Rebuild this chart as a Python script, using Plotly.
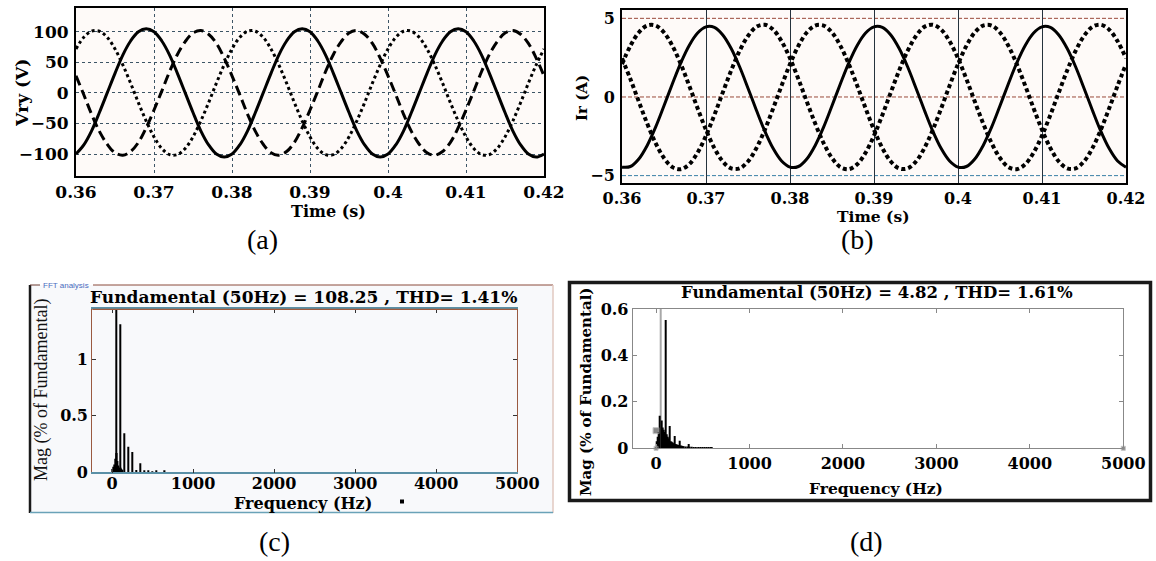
import plotly.graph_objects as go

W, H = 1156, 561

# ---------------- data ----------------
time_s = [0.360, 0.361, 0.362, 0.363, 0.364, 0.365, 0.366, 0.367, 0.368, 0.369,
          0.370, 0.371, 0.372, 0.373, 0.374, 0.375, 0.376, 0.377, 0.378, 0.379,
          0.380, 0.381, 0.382, 0.383, 0.384, 0.385, 0.386, 0.387, 0.388, 0.389,
          0.390, 0.391, 0.392, 0.393, 0.394, 0.395, 0.396, 0.397, 0.398, 0.399,
          0.400, 0.401, 0.402, 0.403, 0.404, 0.405, 0.406, 0.407, 0.408, 0.409,
          0.410, 0.411, 0.412, 0.413, 0.414, 0.415, 0.416, 0.417, 0.418, 0.419,
          0.420]

# (a) phase voltages (V)
v_solid = [-100, -85, -62, -32, 0, 32, 62, 85, 100, 105, 100, 85, 62, 32, 0, -32, -62, -85, -100, -105,
           -100, -85, -62, -32, 0, 32, 62, 85, 100, 105, 100, 85, 62, 32, 0, -32, -62, -85, -100, -105,
           -100, -85, -62, -32, 0, 32, 62, 85, 100, 105, 100, 85, 62, 32, 0, -32, -62, -85, -100, -105,
           -100]
v_dashed = [28, -3, -35, -63, -84, -98, -102, -96, -81, -57, -28, 3, 35, 63, 84, 98, 102, 96, 81, 57,
            28, -3, -35, -63, -84, -98, -102, -96, -81, -57, -28, 3, 35, 63, 84, 98, 102, 96, 81, 57,
            28, -3, -35, -63, -84, -98, -102, -96, -81, -57, -28, 3, 35, 63, 84, 98, 102, 96, 81, 57,
            28]
v_dotted = [72, 91, 101, 101, 91, 72, 46, 16, -16, -46, -72, -91, -101, -101, -91, -72, -46, -16, 16, 46,
            72, 91, 101, 101, 91, 72, 46, 16, -16, -46, -72, -91, -101, -101, -91, -72, -46, -16, 16, 46,
            72, 91, 101, 101, 91, 72, 46, 16, -16, -46, -72, -91, -101, -101, -91, -72, -46, -16, 16, 46,
            72]

# (b) phase currents (A)
i_solid = [-4.46, -4.42, -3.94, -3.08, -1.92, -0.56, 0.84, 2.17, 3.28, 4.07, 4.46, 4.42, 3.94, 3.08, 1.92, 0.56, -0.84, -2.17, -3.28, -4.07,
           -4.46, -4.42, -3.94, -3.08, -1.92, -0.56, 0.84, 2.17, 3.28, 4.07, 4.46, 4.42, 3.94, 3.08, 1.92, 0.56, -0.84, -2.17, -3.28, -4.07,
           -4.46, -4.42, -3.94, -3.08, -1.92, -0.56, 0.84, 2.17, 3.28, 4.07, 4.46, 4.42, 3.94, 3.08, 1.92, 0.56, -0.84, -2.17, -3.28, -4.07,
           -4.46]
i_dot_a = [2.09, 3.25, 4.10, 4.54, 4.54, 4.10, 3.25, 2.09, 0.72, -0.72, -2.09, -3.25, -4.10, -4.54, -4.54, -4.10, -3.25, -2.09, -0.72, 0.72,
           2.09, 3.25, 4.10, 4.54, 4.54, 4.10, 3.25, 2.09, 0.72, -0.72, -2.09, -3.25, -4.10, -4.54, -4.54, -4.10, -3.25, -2.09, -0.72, 0.72,
           2.09, 3.25, 4.10, 4.54, 4.54, 4.10, 3.25, 2.09, 0.72, -0.72, -2.09, -3.25, -4.10, -4.54, -4.54, -4.10, -3.25, -2.09, -0.72, 0.72,
           2.09]
i_dot_b = [2.46, 1.14, -0.29, -1.69, -2.93, -3.88, -4.46, -4.59, -4.28, -3.54, -2.46, -1.14, 0.29, 1.69, 2.93, 3.88, 4.46, 4.59, 4.28, 3.54,
           2.46, 1.14, -0.29, -1.69, -2.93, -3.88, -4.46, -4.59, -4.28, -3.54, -2.46, -1.14, 0.29, 1.69, 2.93, 3.88, 4.46, 4.59, 4.28, 3.54,
           2.46, 1.14, -0.29, -1.69, -2.93, -3.88, -4.46, -4.59, -4.28, -3.54, -2.46, -1.14, 0.29, 1.69, 2.93, 3.88, 4.46, 4.59, 4.28, 3.54,
           2.46]

time_ticks = [0.36, 0.37, 0.38, 0.39, 0.40, 0.41, 0.42]
time_labels = ["0.36", "0.37", "0.38", "0.39", "0.4", "0.41", "0.42"]
v_ticks = [-100, -50, 0, 50, 100]
i_ticks = [-5, 0, 5]

# (c) FFT of voltage (% of fundamental)
c_freq = [10, 20, 30, 40, 50, 60, 70, 80, 90, 100, 110, 120, 130, 150, 200, 250, 300, 350, 400, 450, 500, 550, 650]
c_mag = [0.03, 0.05, 0.07, 0.12, 100.0, 0.17, 0.10, 0.06, 0.04, 1.31, 0.04, 0.03, 0.02, 0.345, 0.227, 0.18,
         0.02, 0.08, 0.01, 0.01, 0.008, 0.01, 0.01]

# (d) FFT of current (% of fundamental)
d_fund_freq = [50]
d_fund_mag = [100.0]
d_freq = [10, 20, 30, 40, 60, 70, 80, 90, 100, 110, 120, 130, 140, 150, 160, 170, 180, 190, 200,
          210, 220, 230, 240, 250, 260, 270, 280, 290, 300, 320, 340, 350, 360, 380, 400, 420,
          440, 460, 480, 500, 520, 540, 560, 580, 600]
d_mag = [0.03, 0.05, 0.07, 0.14, 0.12, 0.09, 0.08, 0.07, 0.553, 0.06, 0.05, 0.045, 0.04, 0.096, 0.03,
         0.028, 0.025, 0.022, 0.053, 0.018, 0.016, 0.015, 0.014, 0.033, 0.012, 0.011, 0.010, 0.010,
         0.009, 0.008, 0.008, 0.019, 0.007, 0.007, 0.006, 0.006, 0.005, 0.005, 0.005, 0.005, 0.004,
         0.004, 0.004, 0.004, 0.003]
d_mark_freq = [0, 0, 5000]
d_mark_mag = [0.076, 0.0, 0.0]

freq_ticks = [0, 1000, 2000, 3000, 4000, 5000]
c_ticks = [0, 0.5, 1]
c_labels = ["0", "0.5", "1"]
d_ticks = [0, 0.2, 0.4, 0.6]
d_labels = ["0", "0.2", "0.4", "0.6"]

title_c = "Fundamental (50Hz) = 108.25 , THD= 1.41%"
title_d = "Fundamental (50Hz) = 4.82 , THD= 1.61%"


def px(x):
    return x / W


def py(y):
    return 1 - y / H


SERIF = "DejaVu Serif"
TIMES = "Liberation Serif"

fig = go.Figure()

# (a)
fig.add_trace(go.Scatter(x=time_s, y=v_dotted, mode="lines", line=dict(color="black", width=3, dash="3px,3px", shape="spline"),
                         xaxis="x", yaxis="y", showlegend=False))
fig.add_trace(go.Scatter(x=time_s, y=v_dashed, mode="lines", line=dict(color="black", width=3, dash="10px,5px", shape="spline"),
                         xaxis="x", yaxis="y", showlegend=False))
fig.add_trace(go.Scatter(x=time_s, y=v_solid, mode="lines", line=dict(color="black", width=3, shape="spline"),
                         xaxis="x", yaxis="y", showlegend=False))
# (b)
fig.add_trace(go.Scatter(x=time_s, y=i_dot_a, mode="lines", line=dict(color="black", width=4, dash="4px,3px", shape="spline"),
                         xaxis="x2", yaxis="y2", showlegend=False))
fig.add_trace(go.Scatter(x=time_s, y=i_dot_b, mode="lines", line=dict(color="black", width=4, dash="4px,3px", shape="spline"),
                         xaxis="x2", yaxis="y2", showlegend=False))
fig.add_trace(go.Scatter(x=time_s, y=i_solid, mode="lines", line=dict(color="black", width=3, shape="spline"),
                         xaxis="x2", yaxis="y2", showlegend=False))
# (c)
fig.add_trace(go.Bar(x=c_freq, y=c_mag, width=18, marker=dict(color="black", line=dict(width=0)),
                     xaxis="x3", yaxis="y3", showlegend=False))
# (d)
fig.add_trace(go.Bar(x=d_fund_freq, y=d_fund_mag, width=14, marker=dict(color="#a8a8a8", line=dict(width=0)),
                     xaxis="x4", yaxis="y4", showlegend=False))
fig.add_trace(go.Bar(x=d_freq, y=d_mag, width=10, marker=dict(color="black", line=dict(width=0)),
                     xaxis="x4", yaxis="y4", showlegend=False))
fig.add_trace(go.Scatter(x=d_mark_freq, y=d_mark_mag, mode="markers",
                         marker=dict(symbol="square", size=[6, 4, 4], color="#555555", line=dict(color="#aaaaaa", width=1)),
                         xaxis="x4", yaxis="y4", showlegend=False, cliponaxis=False))

tf_a = dict(family=SERIF, size=17, color="black", weight="bold")
tf_b = dict(family=SERIF, size=16, color="black", weight="bold")
tf_cd = dict(family=SERIF, size=16, color="black", weight="bold")

common = dict(automargin=False, zeroline=False)

fig.update_layout(
    template="none",
    width=W, height=H, margin=dict(l=0, r=0, t=0, b=0, autoexpand=False),
    paper_bgcolor="white", plot_bgcolor="rgba(0,0,0,0)",
    barmode="overlay", hovermode=False,
    xaxis=dict(domain=[px(76), px(544)], range=[0.36, 0.42], tickvals=time_ticks, ticktext=time_labels,
               showgrid=True, gridcolor="#3d5566", griddash="dot", gridwidth=1,
               showline=True, linecolor="black", linewidth=2, mirror=True, ticks="", tickfont=tf_a,
               anchor="y", ticklabelstandoff=0, **common),
    yaxis=dict(domain=[py(176), py(8)], range=[-136, 139], tickvals=v_ticks,
               showgrid=True, gridcolor="#3d5566", griddash="dot", gridwidth=1,
               showline=True, linecolor="black", linewidth=2, mirror=True, ticks="", tickfont=tf_a,
               anchor="x", ticklabelstandoff=2, **common),
    xaxis2=dict(domain=[px(622), px(1126)], range=[0.36, 0.42], tickvals=time_ticks, ticktext=time_labels,
                showgrid=True, gridcolor="#26323d", gridwidth=1.3,
                showline=True, linecolor="black", linewidth=2, mirror=True, ticks="", tickfont=tf_b,
                anchor="y2", ticklabelstandoff=0, **common),
    yaxis2=dict(domain=[py(182.7), py(10)], range=[-5.45, 5.53], tickvals=i_ticks,
                showgrid=False,
                showline=True, linecolor="black", linewidth=2, mirror=True, ticks="", tickfont=tf_b,
                anchor="x2", ticklabelstandoff=2, **common),
    xaxis3=dict(domain=[px(92.3), px(517.3)], range=[-243, 5000], tickvals=freq_ticks,
                showgrid=False, showline=True, linecolor="#5a90a6", linewidth=1.5,
                mirror="ticks", ticks="inside", ticklen=4, tickcolor="#333333", tickfont=tf_cd,
                anchor="y3", ticklabelstandoff=-4, **common),
    yaxis3=dict(domain=[py(472.3), py(309.3)], range=[0, 1.443], tickvals=c_ticks, ticktext=c_labels,
                showgrid=False, showline=True, linecolor="#9a5a40", linewidth=1.2,
                mirror="ticks", ticks="inside", ticklen=4, tickcolor="#333333", tickfont=tf_cd,
                anchor="x3", **common),
    xaxis4=dict(domain=[px(632.7), px(1123.3)], range=[-250, 5000], tickvals=freq_ticks,
                showgrid=False, showline=True, linecolor="#888888", linewidth=1,
                mirror="ticks", ticks="inside", ticklen=4, tickcolor="#888888", tickfont=tf_cd,
                anchor="y4", **common),
    yaxis4=dict(domain=[py(448.3), py(309)], range=[0, 0.6], tickvals=d_ticks, ticktext=d_labels,
                showgrid=False, showline=True, linecolor="#888888", linewidth=1,
                mirror="ticks", ticks="inside", ticklen=4, tickcolor="#888888", tickfont=tf_cd,
                anchor="x4", **common),
)

shapes = []
# plot backgrounds
for xr, yr, col in [("x", "y", "#fefaf8"), ("x2", "y2", "#fefaf8"), ("x3", "y3", "#fafbfd"), ("x4", "y4", "white")]:
    shapes.append(dict(type="rect", xref=xr + " domain", yref=yr + " domain", x0=0, x1=1, y0=0, y1=1,
                       fillcolor=col, line=dict(width=0), layer="below"))
# (c) outer frame
shapes.append(dict(type="rect", xref="paper", yref="paper", x0=px(29), x1=px(553), y0=py(513), y1=py(285),
                   fillcolor="#f8f9fb", line=dict(width=0), layer="below"))
shapes.append(dict(type="line", xref="paper", yref="paper", x0=px(30), x1=px(30), y0=py(513), y1=py(285),
                   line=dict(color="#1a1a1a", width=2.5)))
shapes.append(dict(type="line", xref="paper", yref="paper", x0=px(30), x1=px(40), y0=py(285), y1=py(285),
                   line=dict(color="#6a3a30", width=1)))
shapes.append(dict(type="line", xref="paper", yref="paper", x0=px(93), x1=px(553), y0=py(285), y1=py(285),
                   line=dict(color="#8a4a3a", width=1)))
shapes.append(dict(type="line", xref="paper", yref="paper", x0=px(553), x1=px(553), y0=py(513), y1=py(285),
                   line=dict(color="#e2c8c0", width=1.5)))
shapes.append(dict(type="line", xref="paper", yref="paper", x0=px(30), x1=px(553), y0=py(512.5), y1=py(512.5),
                   line=dict(color="#6aa2b8", width=1.5)))
shapes.append(dict(type="rect", xref="paper", yref="paper", x0=px(400), x1=px(404), y0=py(503.5), y1=py(499.5),
                   fillcolor="black", line=dict(width=0)))
# (c) top border of plot in brown
shapes.append(dict(type="line", xref="x3 domain", yref="y3 domain", x0=0, x1=1, y0=1, y1=1,
                   line=dict(color="#a05a3c", width=1.2)))
# (d) outer frame
shapes.append(dict(type="rect", xref="paper", yref="paper", x0=px(569.5), x1=px(1150.5), y0=py(500.5), y1=py(282.5),
                   line=dict(color="#1a1a1a", width=3.5)))
# (b) horizontal grid lines
for val, col in zip(i_ticks, ["#3a7fa6", "#9a4a3a", "#9a4a3a"]):
    shapes.append(dict(type="line", xref="x2 domain", yref="y2", x0=0, x1=1, y0=val, y1=val,
                       line=dict(color=col, width=1, dash="4px,2px"), layer="below"))
fig.update_layout(shapes=shapes)

ann = []


def add_text(text, x, y, font, angle=0, xanchor="center", yanchor="middle"):
    ann.append(dict(text=text, x=px(x), y=py(y), xref="paper", yref="paper", showarrow=False,
                    font=font, textangle=angle, xanchor=xanchor, yanchor=yanchor))


add_text("Vry (V)", 22, 93, dict(family=SERIF, size=17, color="black", weight="bold"), angle=-90)
add_text("Time (s)", 329, 211, dict(family=SERIF, size=16, color="black", weight="bold"))
add_text("Ir (A)", 582, 98, dict(family=SERIF, size=15, color="black", weight="bold"), angle=-90)
add_text("Time (s)", 873, 216, dict(family=SERIF, size=15.5, color="black", weight="bold"))

add_text(title_c, 303, 297, dict(family=SERIF, size=17, color="black", weight="bold"))
add_text("Mag (% of Fundamental)", 41, 390, dict(family=TIMES, size=18, color="#111111"), angle=-90)
add_text("Frequency (Hz)", 303, 503, dict(family=SERIF, size=16, color="black", weight="bold"))
add_text("FFT analysis", 66, 285, dict(family="Liberation Sans", size=8, color="#4a6cc0"))

add_text(title_d, 877, 292, dict(family=SERIF, size=16.5, color="black", weight="bold"))
add_text("Mag (% of Fundamental)", 586, 392, dict(family=SERIF, size=15, color="black", weight="bold"), angle=-90)
add_text("Frequency (Hz)", 876, 488, dict(family=SERIF, size=15.5, color="black", weight="bold"))

cap = dict(family=TIMES, size=28, color="black")
add_text("(a)", 262, 240, cap)
add_text("(b)", 857, 240, cap)
add_text("(c)", 274, 541, cap)
add_text("(d)", 866, 541, cap)

fig.update_layout(annotations=ann)

fig.write_html("out.html", config={"displayModeBar": False},
               post_script="document.body.style.margin='0';document.body.style.overflow='hidden';")
